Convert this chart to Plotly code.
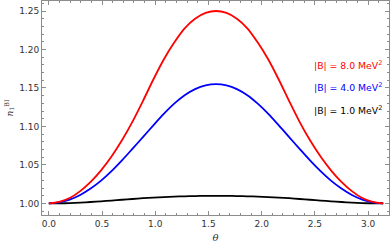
import plotly.graph_objects as go

theta = [0.0, 0.098, 0.196, 0.295, 0.393, 0.491, 0.589, 0.687, 0.785, 0.884, 0.982,
         1.080, 1.178, 1.276, 1.374, 1.473, 1.571,
         1.669, 1.767, 1.865, 1.963, 2.062, 2.160, 2.258, 2.356, 2.454, 2.553,
         2.651, 2.749, 2.847, 2.945, 3.043, 3.1416]
n_red = [1.000, 1.002, 1.007, 1.016, 1.028, 1.043, 1.061, 1.082, 1.106, 1.133, 1.161,
         1.187, 1.209, 1.2275, 1.240, 1.2475, 1.250,
         1.2475, 1.240, 1.2275, 1.209, 1.187, 1.161, 1.133, 1.106, 1.082, 1.061,
         1.043, 1.028, 1.016, 1.007, 1.002, 1.000]
n_blue = [1.000, 1.0015, 1.005, 1.011, 1.0193, 1.0296, 1.0419, 1.0559, 1.0709, 1.0862, 1.1015,
          1.1163, 1.1296, 1.1406, 1.1486, 1.1534, 1.155,
          1.1534, 1.1486, 1.1406, 1.1296, 1.1163, 1.1015, 1.0862, 1.0709, 1.0559, 1.0419,
          1.0296, 1.0193, 1.011, 1.005, 1.0015, 1.000]
n_black = [1.000, 1.0001, 1.0005, 1.0011, 1.0019, 1.0028, 1.0038, 1.0048, 1.0058, 1.0068, 1.0076,
           1.0083, 1.0089, 1.0093, 1.0096, 1.0098, 1.0098,
           1.0098, 1.0096, 1.0093, 1.0089, 1.0083, 1.0076, 1.0068, 1.0058, 1.0048, 1.0038,
           1.0028, 1.0019, 1.0011, 1.0005, 1.0001, 1.000]
labels = ["|B| = 8.0 MeV<sup>2</sup>", "|B| = 4.0 MeV<sup>2</sup>", "|B| = 1.0 MeV<sup>2</sup>"]
label_y = [1.180, 1.151, 1.121]
colors = ["#ff0000", "#0000ff", "#000000"]
x_ticks = [0.0, 0.5, 1.0, 1.5, 2.0, 2.5, 3.0]
y_ticks = [1.00, 1.05, 1.10, 1.15, 1.20, 1.25]

fig = go.Figure()
for ys, c, name in zip([n_black, n_blue, n_red], colors[::-1], labels[::-1]):
    fig.add_trace(go.Scatter(x=theta, y=ys, mode="lines", name=name,
                             line=dict(color=c, width=1.8, shape="spline", smoothing=0.8)))

axis_common = dict(
    showline=True, linecolor="#8c8c8c", linewidth=1, mirror="allticks",
    ticks="inside", ticklen=4, tickwidth=1, tickcolor="#8c8c8c",
    showgrid=False, zeroline=False,
    tickfont=dict(family="DejaVu Sans", size=9, color="#333333"),
)
fig.update_xaxes(**axis_common, range=[-0.064, 3.196], tickvals=x_ticks,
                 ticktext=[f"{v:.1f}" for v in x_ticks],
                 minor=dict(dtick=0.1, tick0=0, ticks="inside", ticklen=2, tickcolor="#8c8c8c"),
                 title=dict(text="<i>θ</i>", font=dict(family="DejaVu Serif", size=10, color="#333333"), standoff=6))
fig.update_yaxes(**axis_common, range=[0.985, 1.263], tickvals=y_ticks,
                 ticktext=[f"{v:.2f}" for v in y_ticks],
                 minor=dict(dtick=0.01, tick0=1.0, ticks="inside", ticklen=2, tickcolor="#8c8c8c"),
                 title=dict(text="<i>n</i><sub>1</sub><sup>BI</sup>", font=dict(family="DejaVu Serif", size=9, color="#333333"), standoff=4))

for lab, c, yv in zip(labels, colors, label_y):
    fig.add_annotation(x=2.47, y=yv, xref="x", yref="y", text=lab,
                       showarrow=False, xanchor="left", yanchor="middle",
                       font=dict(family="DejaVu Sans", size=9.3, color=c))

fig.update_layout(width=390, height=247, margin=dict(l=42, r=1, t=1, b=32),
                  paper_bgcolor="white", plot_bgcolor="white", showlegend=False)
fig.write_html("out.html", config={"displayModeBar": False},
               post_script="document.body.style.margin='0';")
